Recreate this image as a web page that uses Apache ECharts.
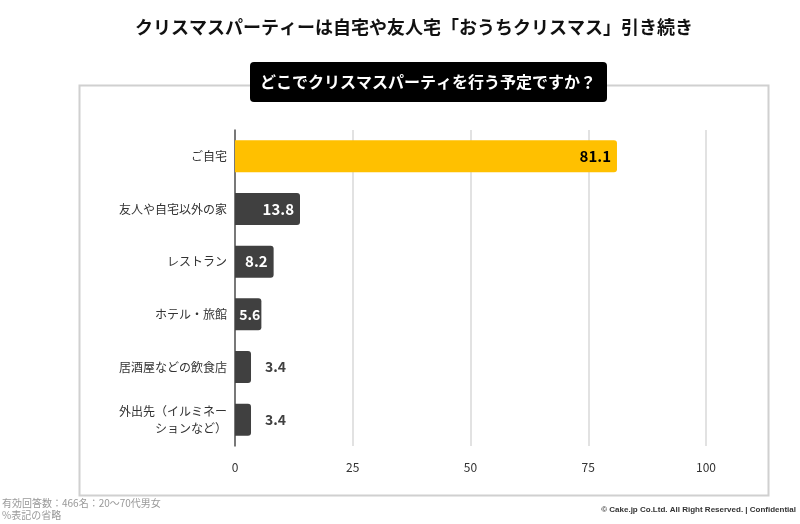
<!DOCTYPE html>
<html><head><meta charset="utf-8">
<script src="https://cdn.jsdelivr.net/npm/echarts@6/dist/echarts.min.js"></script>
<style>html,body{margin:0;padding:0;background:#fff}#c{width:800px;height:524px}</style>
</head><body><div id="c"></div>
<script>
const titleText = 'クリスマスパーティーは自宅や友人宅「おうちクリスマス」引き続き';
const questionText = 'どこでクリスマスパーティを行う予定ですか？';
const categories = ['ご自宅', '友人や自宅以外の家', 'レストラン', 'ホテル・旅館', '居酒屋などの飲食店', '外出先（イルミネー\nションなど）'];
const values = [81.1, 13.8, 8.2, 5.6, 3.4, 3.4];
const xTicks = [0, 25, 50, 75, 100];
const noteLines = ['有効回答数：466名：20〜70代男女', '%表記の省略'];
const copyright = '© Cake.jp Co.Ltd. All Right Reserved. | Confidential';

const font = '"Noto Sans CJK JP", "Noto Sans", sans-serif';
const chart = echarts.init(document.getElementById('c'));
const data = values.map((v, i) => {
  const first = i === 0;
  const inside = v >= 5;
  return {
    value: v,
    itemStyle: { color: first ? '#FFC000' : '#404040' },
    label: {
      position: inside ? 'insideRight' : 'right',
      distance: inside ? (v < 7 ? 1 : 6) : 14,
      fontSize: v < 7 ? 14 : 15,
      color: first ? '#000' : (inside ? '#fff' : '#404040')
    }
  };
});
chart.setOption({
  animation: false,
  textStyle: { fontFamily: font },
  title: {
    text: titleText, left: 130, top: 13,
    textStyle: { fontSize: 18, fontWeight: 'bold', color: '#111', fontFamily: font }
  },
  graphic: [
    { type: 'rect', left: 77, top: 83, shape: { width: 689, height: 410 }, style: { fill: 'none', stroke: '#d0d0d0', lineWidth: 2 }, z: 0 },
    { type: 'rect', left: 250, top: 62, shape: { width: 357, height: 40, r: 4 }, style: { fill: '#000' }, z: 10 },
    { type: 'text', x: 428, y: 82, style: { text: questionText, fill: '#fff', font: 'bold 16px ' + font, textAlign: 'center', textVerticalAlign: 'middle' }, z: 11 },
    { type: 'text', left: 2, top: 497, style: { text: noteLines.join('\n'), fill: '#999', font: '10px ' + font, lineHeight: 12 } },
    { type: 'text', right: 4, top: 506, style: { text: copyright, fill: '#333', font: 'bold 8px "Liberation Sans", Arial, sans-serif' } }
  ],
  grid: { left: 235, right: 94, top: 130, bottom: 78, containLabel: false },
  xAxis: {
    type: 'value', min: xTicks[0], max: xTicks[xTicks.length - 1], interval: 25,
    axisLine: { show: false }, axisTick: { show: false },
    axisLabel: { color: '#333', fontSize: 12, margin: 15 },
    splitLine: { lineStyle: { color: '#d9d9d9', width: 1.5 } }
  },
  yAxis: {
    type: 'category', data: categories, inverse: true,
    axisLine: { show: true, lineStyle: { color: '#555', width: 1.5 } },
    axisTick: { show: false },
    axisLabel: { color: '#333', fontSize: 12, margin: 8, lineHeight: 17, align: 'right' }
  },
  series: [{
    type: 'bar', data: data, barWidth: 32,
    itemStyle: { borderRadius: [0, 3, 3, 0] },
    label: { show: true, fontWeight: 'bold', formatter: p => p.value.toFixed(1) }
  }]
});
</script></body></html>
